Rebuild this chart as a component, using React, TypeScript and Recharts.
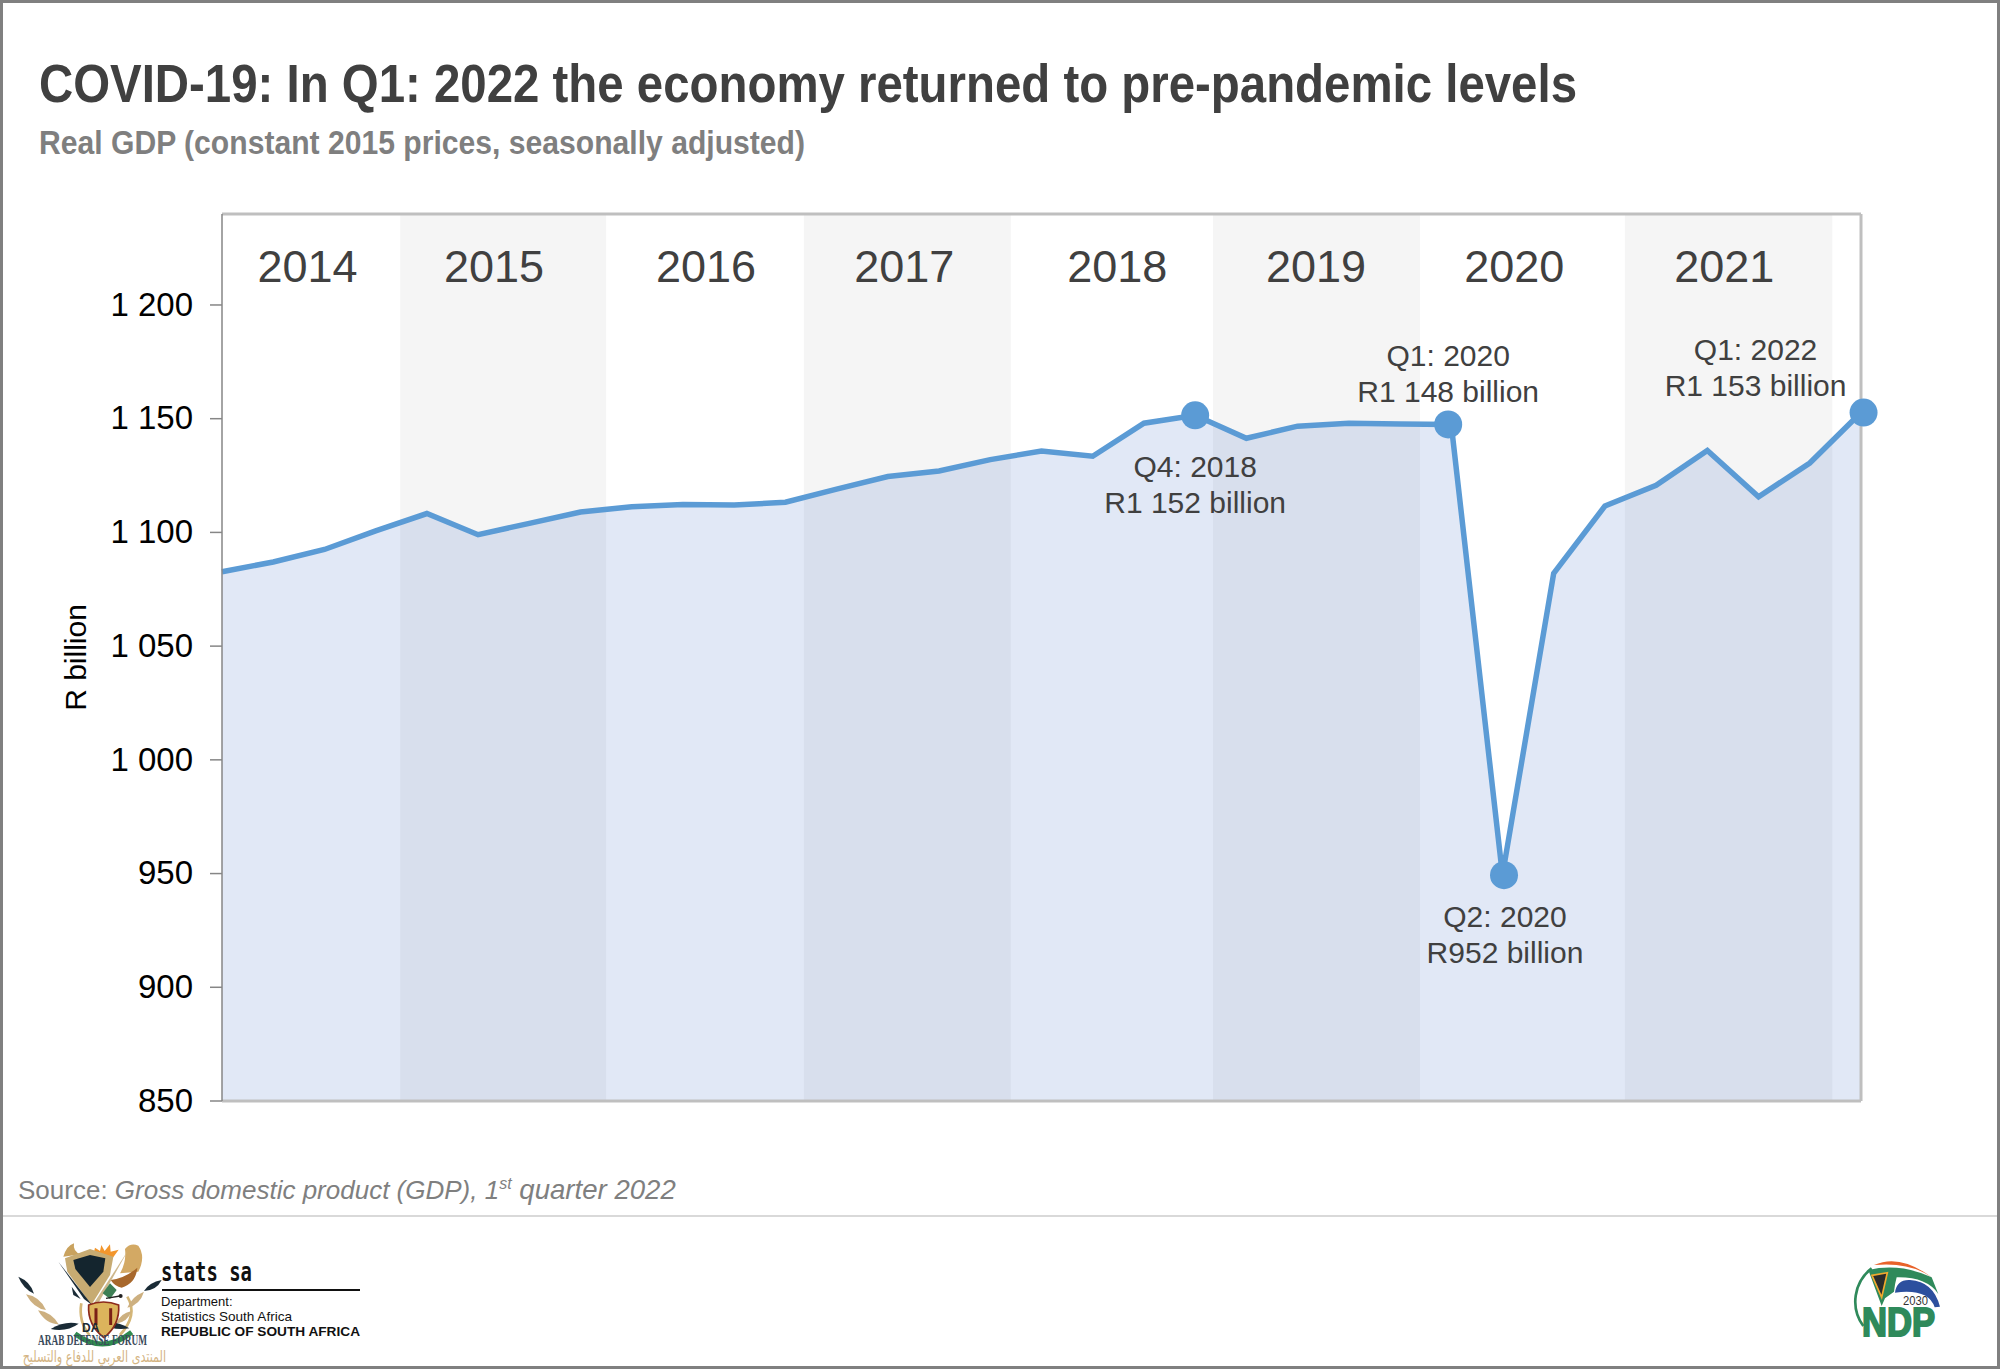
import React from 'react';
import { ComposedChart, Area, XAxis, YAxis, ReferenceArea, ReferenceDot, ReferenceLine } from 'recharts';

const gdp = [
  1082.7, 1087, 1092.5, 1100.7, 1108.3, 1099, 1104, 1109, 1111.3, 1112.3, 1112, 1113.3,
  1119, 1124.6, 1127, 1132, 1135.8, 1133.5, 1148, 1151.5, 1141.4, 1146.7, 1148, 1147.7,
  1147.5, 949.3, 1082, 1111.6, 1120.7, 1136, 1115.7, 1130.5, 1152.7,
];
const yTicks = [850, 900, 950, 1000, 1050, 1100, 1150, 1200];
const years = ['2014', '2015', '2016', '2017', '2018', '2019', '2020', '2021'];
const yearCentres = [1.67, 5.31, 9.45, 13.32, 17.48, 21.36, 25.23, 29.33];
const bandStarts = [3.48, 11.36, 19.35, 27.39];
const bandEnds = [7.5, 15.4, 23.39, 31.44];
const callouts = [
  { at: 19, dotAt: 19, lines: ['Q4: 2018', 'R1 152 billion'], dx: 0, dy: 62 },
  { at: 24, dotAt: 23.94, lines: ['Q1: 2020', 'R1 148 billion'], dx: 0, dy: -58 },
  { at: 25, dotAt: 25.03, lines: ['Q2: 2020', 'R952 billion'], dx: 1, dy: 52 },
  { at: 32, dotAt: 32.05, lines: ['Q1: 2022', 'R1 153 billion'], dx: -108, dy: -53 },
];

const chartData = gdp.map((value, i) => ({ i, value }));
const SANS = '"Liberation Sans", Arial, sans-serif';

const textAt = (lines: string[], size: number, dx = 0, dy = 0) => (props: any) => {
  const { x, y, width, height } = props.viewBox;
  const cx = x + width / 2 + dx;
  const cy = y + height / 2 + dy;
  return (
    <text x={cx} y={cy} textAnchor="middle" fontFamily={SANS} fontSize={size} fill="#404040">
      {lines.map((l, n) => (
        <tspan key={n} x={cx} y={cy + n * 36}>{l}</tspan>
      ))}
    </text>
  );
};

function Crest() {
  return (
    <g transform="translate(10 1225) scale(0.3333)">
      {/* wings behind the shield */}
      <path d="M160 95 Q170 62 192 55 Q188 80 212 88 Z" fill="#c9a25e" />
      <path d="M255 68 L270 78 L274 60 L284 78 L300 58 L302 80 L326 74 L300 110 L250 90 Z" fill="#f2962c" />
      <path d="M345 72 Q362 52 385 62 Q408 95 385 140 L330 145 Q350 110 345 72 Z" fill="#d3a964" />
      <path d="M302 165 Q345 160 382 128 Q378 175 335 188 Q315 185 302 165 Z" fill="#a8682c" />
      {/* ring */}
      <path d="M214 235 Q205 290 238 330" fill="none" stroke="#d4b677" strokeWidth={8} />
      <path d="M352 215 Q385 270 330 330" fill="none" stroke="#d4b677" strokeWidth={8} />
      {/* shield */}
      <path d="M165 100 L240 72 L310 95 L300 150 L244 240 L172 140 Z" fill="#c7ab72" />
      <path d="M190 105 L240 90 L286 100 L280 140 L240 186 L196 132 Z" fill="#14252e" />
      <path d="M355 75 L248 240 L262 240 Z" fill="#cdb78c" />
      <path d="M145 110 L246 240 L222 222 Z" fill="#1a2b36" />
      <path d="M185 185 L212 222 L190 210 Z" fill="#1a2b36" />
      {/* feathers */}
      <path d="M25 155 Q62 170 72 206 Q40 192 25 155 Z" fill="#1a2b36" />
      <path d="M48 208 Q90 215 108 255 Q72 252 48 208 Z" fill="#cdb080" />
      <path d="M84 256 Q125 262 146 298 Q108 298 84 256 Z" fill="#cdb080" />
      <path d="M122 312 Q165 286 206 296 Q170 322 122 312 Z" fill="#1a2b36" />
      <path d="M455 165 Q418 172 402 198 Q440 196 455 165 Z" fill="#1a2b36" />
      <path d="M402 200 Q365 215 352 248 Q390 240 402 200 Z" fill="#cdb080" />
      <path d="M365 258 Q330 265 318 296 Q352 292 365 258 Z" fill="#cdb080" />
      <path d="M275 296 Q318 285 358 310 Q310 318 275 296 Z" fill="#1a2b36" />
      {/* arms */}
      <path d="M278 205 L300 175 L320 195 L300 222 Z" fill="#3d7f55" />
      <line x1={288} y1={220} x2={330} y2={213} stroke="#222" strokeWidth={4} />
      <circle cx={332} cy={213} r={6} fill="#222" />
      <path d="M236 240 Q280 222 326 240 Q330 300 282 338 Q232 300 236 240 Z" fill="#dcb45c" stroke="#8c2a1c" strokeWidth={5} />
      <path d="M258 250 L258 300 M302 250 L302 300" stroke="#7a2016" strokeWidth={9} />
      <path d="M195 326 Q280 390 365 322" fill="none" stroke="#2f8a4f" strokeWidth={15} />
      <text x={216} y={322} fontFamily='"Liberation Sans", sans-serif' fontWeight={700} fontSize={36} fill="#1a2b36">DA</text>
    </g>
  );
}

function NdpMark() {
  return (
    <g transform="translate(1800 1220) scale(0.3333)">
      <path d="M215 145 A125 125 0 0 0 190 318" fill="none" stroke="#2f8a5b" strokeWidth={8} />
      <path d="M222 135 Q300 100 395 172 Q330 125 222 135 Z" fill="#e8622a" />
      <path d="M205 150 Q300 128 395 172 L415 222 Q380 170 290 172 Q285 190 282 215 L255 235 L245 258 Z" fill="#2f8a5b" />
      <path d="M216 166 L262 158 L245 232 Z" fill="#2b2b2b" stroke="#f0a92e" strokeWidth={5} />
      <path d="M285 218 Q290 178 330 180 Q400 184 420 260 L404 262 Q385 205 285 218 Z" fill="#2c4f9e" />
    </g>
  );
}

function Overlay() {
  return (
    <svg width={2000} height={1369} style={{ position: 'absolute', left: 0, top: 0 }}>
      <text x={39} y={102} fontFamily={SANS} fontWeight={700} fontSize={54} fill="#404040" textLength={1538} lengthAdjust="spacingAndGlyphs">
        COVID-19: In Q1: 2022 the economy returned to pre-pandemic levels
      </text>
      <text x={39} y={154} fontFamily={SANS} fontWeight={700} fontSize={33} fill="#7f7f7f" textLength={766} lengthAdjust="spacingAndGlyphs">
        Real GDP (constant 2015 prices, seasonally adjusted)
      </text>
      <text x={18} y={1199} fontFamily={SANS} fontSize={26} fill="#7f7f7f">
        Source: <tspan fontStyle="italic">Gross domestic product (GDP), 1</tspan>
        <tspan fontStyle="italic" fontSize={16} dy={-10}>st</tspan>
        <tspan fontStyle="italic" fontSize={27.6} dy={10}> quarter 2022</tspan>
      </text>
      <line x1={3} x2={1997} y1={1216} y2={1216} stroke="#d9d9d9" strokeWidth={2} />

      <Crest />
      <text x={38} y={1345} fontFamily='"Liberation Serif", serif' fontWeight={700} fontSize={14.5} fill="#3a4a5a" textLength={109} lengthAdjust="spacingAndGlyphs">ARAB DEFENSE FORUM</text>
      <g transform="translate(166 1362) scale(0.86 1.2)">
        <text x={0} y={0} fontFamily='"DejaVu Sans", sans-serif' fontSize={13} fill="#d4b483" direction="rtl">المنتدى العربي للدفاع والتسليح</text>
      </g>

      <text x={161} y={1281} fontFamily='"DejaVu Sans Mono", monospace' fontWeight={700} fontSize={26} fill="#111" textLength={91} lengthAdjust="spacingAndGlyphs">stats sa</text>
      <line x1={162} x2={360} y1={1290} y2={1290} stroke="#111" strokeWidth={2} />
      <text x={161} y={1306} fontFamily={SANS} fontSize={13} fill="#111">Department:</text>
      <text x={161} y={1321} fontFamily={SANS} fontSize={13} fill="#111" textLength={131} lengthAdjust="spacingAndGlyphs">Statistics South Africa</text>
      <text x={161} y={1336} fontFamily={SANS} fontWeight={700} fontSize={13} fill="#111" textLength={199} lengthAdjust="spacingAndGlyphs">REPUBLIC OF SOUTH AFRICA</text>

      <NdpMark />
      <text x={1903} y={1305} fontFamily={SANS} fontSize={13} fill="#333" textLength={25} lengthAdjust="spacingAndGlyphs">2030</text>
      <text x={1862} y={1336} fontFamily={SANS} fontWeight={700} fontSize={40} fill="#2f8a5b" stroke="#2f8a5b" strokeWidth={2} textLength={73} lengthAdjust="spacingAndGlyphs">NDP</text>
    </svg>
  );
}

export default function App() {
  return (
    <div style={{ position: 'relative', width: 2000, height: 1369, background: '#fff', overflow: 'hidden' }}>
      <style>{'body{margin:0}'}</style>
      <Overlay />
      <div style={{ position: 'absolute', left: 0, top: 0 }}>
        <ComposedChart width={2000} height={1369} data={chartData} margin={{ top: 214, right: 139, bottom: 268, left: 0 }}>
          <XAxis dataKey="i" type="number" domain={[0, 32]} hide />
          <YAxis
            width={222}
            domain={[850, 1240]}
            ticks={yTicks}
            interval={0}
            tick={{ fontFamily: SANS, fontSize: 33, fill: '#000', dy: -1 }}
            tickFormatter={(v: number) => (v >= 1000 ? `1 ${String(v).slice(1)}` : String(v))}
            tickLine={{ stroke: '#868686', strokeWidth: 1.5 }}
            tickSize={12}
            tickMargin={17}
            axisLine={{ stroke: '#868686', strokeWidth: 1.5 }}
            label={{ value: 'R billion', angle: -90, position: 'insideLeft', offset: 75, fontFamily: SANS, fontSize: 30, fill: '#000', style: { textAnchor: 'middle' } }}
          />
          {bandStarts.map((s, k) => (
            <ReferenceArea key={s} x1={s} x2={bandEnds[k]} y1={850} y2={1240} fill="#f5f5f5" fillOpacity={1} stroke="none" />
          ))}
          <ReferenceLine y={1240} stroke="#bfbfbf" strokeWidth={3} />
          <ReferenceLine x={32} stroke="#bfbfbf" strokeWidth={3} />
          <ReferenceLine y={850} stroke="#bfbfbf" strokeWidth={3} />
          <Area
            type="linear"
            dataKey="value"
            baseValue={850}
            stroke="#5b9bd5"
            strokeWidth={5.5}
            fill="#4472c4"
            fillOpacity={0.16}
            dot={false}
            activeDot={false}
            isAnimationActive={false}
          />
          {years.map((y, k) => (
            <ReferenceDot key={y} x={yearCentres[k]} y={1210} r={0} fill="none" stroke="none" label={textAt([y], 45)} />
          ))}
          {callouts.map((c) => (
            <ReferenceDot
              key={c.at}
              x={c.dotAt}
              y={gdp[c.at]}
              r={14}
              fill="#5b9bd5"
              stroke="none"
              ifOverflow="visible"
              label={textAt(c.lines, 30, c.dx, c.dy)}
            />
          ))}
        </ComposedChart>
      </div>
      <div style={{ position: 'absolute', inset: 0, border: '3px solid #808080', boxSizing: 'border-box', pointerEvents: 'none' }} />
    </div>
  );
}
